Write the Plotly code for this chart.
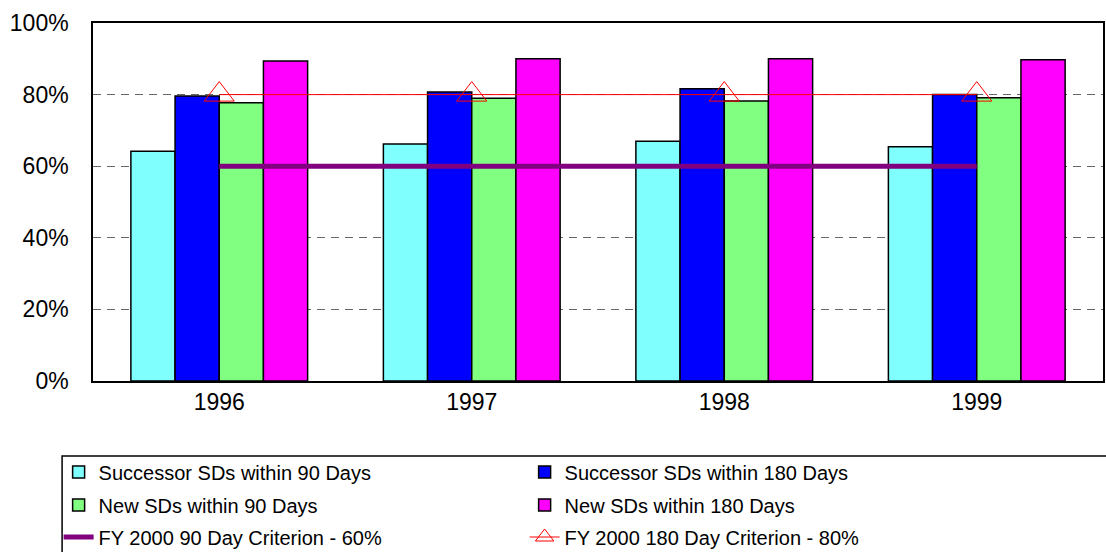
import plotly.graph_objects as go

# Fiscal years shown on the category axis
years = ["1996", "1997", "1998", "1999"]

# Percent of SDs completed within the time limit
successor_90 = [64.2, 66.2, 67.0, 65.4]
successor_180 = [79.6, 80.7, 81.6, 80.0]
new_90 = [77.7, 79.0, 78.2, 79.1]
new_180 = [89.4, 90.0, 90.0, 89.7]

# FY 2000 performance criteria
criterion_90 = [60, 60, 60, 60]
criterion_180 = [80, 80, 80, 80]

y_ticks = [0, 20, 40, 60, 80, 100]
y_tick_labels = ["0%", "20%", "40%", "60%", "80%", "100%"]

FONT = "Liberation Sans, Arial, sans-serif"
BAR_EDGE = dict(color="black", width=1.5)

fig = go.Figure()

# Each legend row is its own legend so the rows can be spaced freely
bar_series = [
    ("Successor SDs within 90 Days", successor_90, "#80FFFF", "legend"),
    ("Successor SDs within 180 Days", successor_180, "#0000FF", "legend"),
    ("New SDs within 90 Days", new_90, "#80FF80", "legend2"),
    ("New SDs within 180 Days", new_180, "#FF00FF", "legend2"),
]
for name, values, color, leg in bar_series:
    fig.add_trace(go.Bar(
        x=years, y=values, name=name, legend=leg,
        marker=dict(color=color, line=BAR_EDGE),
    ))

fig.add_trace(go.Scatter(
    x=years, y=criterion_90, name="FY 2000 90 Day Criterion - 60%",
    legend="legend3",
    mode="lines", line=dict(color="#800080", width=5),
))
fig.add_trace(go.Scatter(
    x=years, y=criterion_180, name="FY 2000 180 Day Criterion - 80%",
    legend="legend3",
    mode="lines+markers", line=dict(color="#FF0000", width=1),
    marker=dict(symbol="triangle-up-open", size=26,
                color="#FF0000", line=dict(color="#FF0000", width=1)),
))

# Legend frame runs off the right and bottom edges of the page
fig.add_shape(
    type="rect", xref="paper", yref="paper",
    x0=-0.0306, x1=1.05, y0=-0.2095, y1=-0.62,
    line=dict(color="black", width=1.5), fillcolor="rgba(0,0,0,0)",
)


def legend_row(y):
    return dict(
        orientation="h",
        xref="container", x=0.053, xanchor="left",
        yref="container", y=y, yanchor="middle",
        entrywidth=421, entrywidthmode="pixels",
        font=dict(family=FONT, size=20, color="black"),
        bgcolor="rgba(0,0,0,0)", borderwidth=0,
        traceorder="normal",
    )


fig.update_layout(
    width=1106, height=552,
    margin=dict(l=93, r=1, t=23, b=171),
    paper_bgcolor="white", plot_bgcolor="white",
    barmode="group", bargap=0.3, bargroupgap=0,
    font=dict(family=FONT, color="black", size=23),
    showlegend=True,
    legend=legend_row(1 - 472 / 552),
    legend2=legend_row(1 - 505 / 552),
    legend3=legend_row(1 - 537 / 552),
)

fig.update_xaxes(
    type="category", showgrid=False, ticks="",
    showline=True, linecolor="black", linewidth=1.5, mirror=True,
    tickfont=dict(family=FONT, size=23),
)
fig.update_yaxes(
    range=[0, 100], tickvals=y_ticks, ticktext=y_tick_labels,
    showgrid=True, gridcolor="#666666", gridwidth=1, griddash="8px,6px",
    zeroline=False, ticks="", ticklabelstandoff=18,
    showline=True, linecolor="black", linewidth=1.5, mirror=True,
    tickfont=dict(family=FONT, size=23),
)

fig.write_html("out.html")
